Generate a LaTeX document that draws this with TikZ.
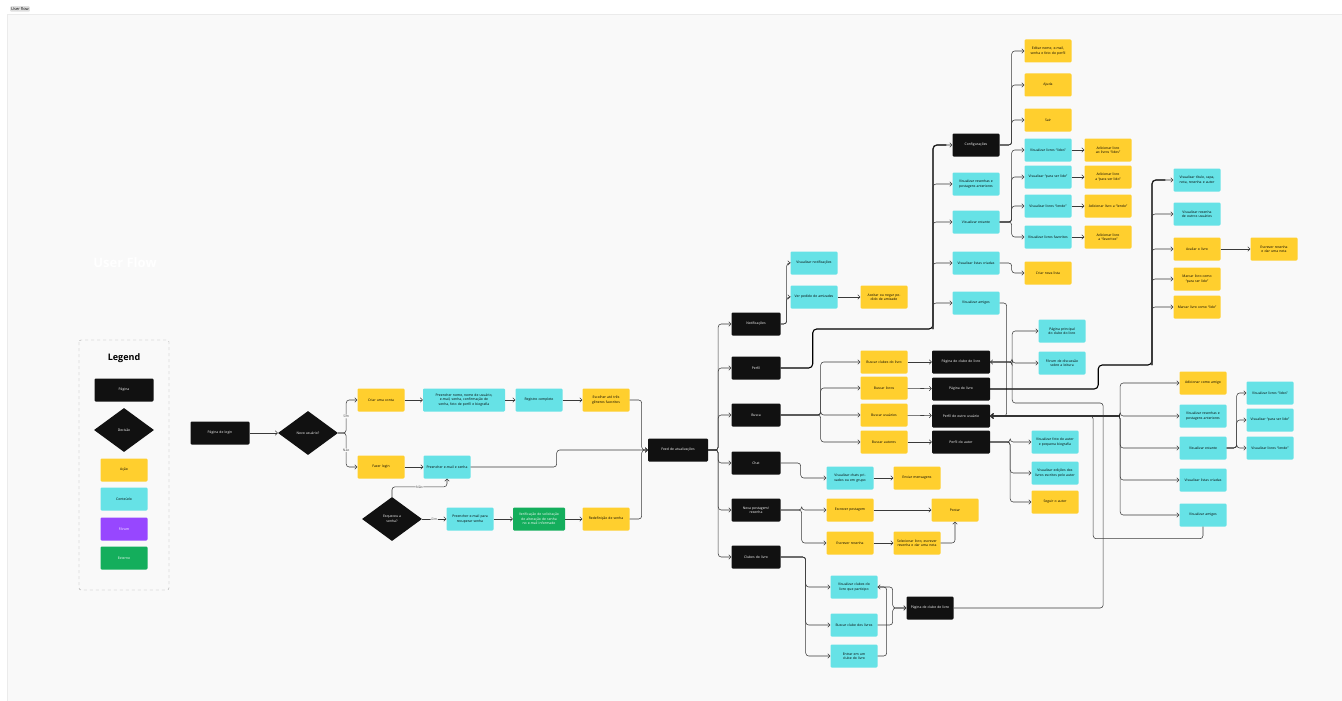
\documentclass[tikz,border=0pt]{standalone}
\usepackage{fontspec}
\setmainfont{Open Sans}
\usepackage{xcolor}
\usepackage{tikz}
\usetikzlibrary{arrows.meta,positioning,shapes.geometric}
\definecolor{pageblk}{HTML}{111111}
\definecolor{actyel}{HTML}{FFCF2E}
\definecolor{contcyan}{HTML}{66E2E6}
\definecolor{forumpur}{HTML}{9747FF}
\definecolor{extgreen}{HTML}{14AE5C}
\definecolor{canvas}{HTML}{F9F9F9}
\definecolor{wire}{HTML}{3A3A3A}
\tikzset{box/.style={rectangle,rounded corners=1.2pt,minimum width=47pt,minimum height=23pt,
    inner sep=1pt,text width=43pt,align=center,font=\fontsize{3.4}{4.4}\selectfont}}
\tikzset{page/.style={box,fill=pageblk,text=white,minimum width=49pt,text width=45pt}}
\tikzset{act/.style={box,fill=actyel,text=black}}
\tikzset{cont/.style={box,fill=contcyan,text=black}}
\tikzset{extbox/.style={box,fill=extgreen,text=white}}
\tikzset{forumbox/.style={box,fill=forumpur,text=white}}
\tikzset{decision/.style={diamond,fill=pageblk,text=white,minimum width=60pt,minimum height=44pt,
    inner sep=0pt,align=center,font=\fontsize{3.4}{4.4}\selectfont}}
\tikzset{link/.style={-{Straight Barb[length=2.2pt,width=4.6pt]},draw=wire,line width=0.55pt,rounded corners=3pt}}
\tikzset{trunk/.style={draw=black,line width=1.1pt,rounded corners=4pt}}
\tikzset{lbl/.style={fill=canvas,inner sep=0.6pt,text=black!70,font=\fontsize{3.4}{4}\selectfont}}

\begin{document}
\begin{tikzpicture}[x=1pt,y=-1pt]
\useasboundingbox (0,0) rectangle (1342,701);
% frame
\fill[white] (0,0) rectangle (1342,701);
\draw[fill=canvas,draw=black!8] (7,14) rectangle (1342,701);
\node[fill=black!12,rounded corners=1pt,inner sep=1.2pt,font=\fontsize{4}{5}\selectfont] (tab) at (20,9) {User flow};
\node[text=white,font=\fontsize{13}{15}\selectfont\bfseries] (title) at (125,263) {User Flow};

% legend
\draw[dashed,draw=black!35,rounded corners=2pt] (79,340) rectangle (169,590);
\node[font=\fontsize{9}{10}\selectfont\bfseries] (lgtitle) at (124,358) {Legend};
\node[page,minimum width=59pt,text width=55pt] (lgpage) at (124,390) {Página};
\node[decision] (lgdec) at (124,430) {Decisão};
\node[act] (lgact) at (124,470) {Ação};
\node[cont] (lgcont) at (124,499) {Conteúdo};
\node[forumbox] (lgforum) at (124,529) {Fórum};
\node[extbox] (lgext) at (124,558) {Externo};

% login
\node[page,minimum width=59pt,text width=55pt] (login) at (220,433) {Página de login};
\node[decision] (novo) at (308,433) {Novo usuário?};
\node[act] (criar) at (381,400) {Criar uma conta};
\node[cont,minimum width=82pt,text width=78pt] (preencher) at (464,400) {Preencher nome, nome de usuário, e-mail, senha, confirmação de senha, foto de perfil e biografia};
\node[cont] (registro) at (539,400) {Registro completo};
\node[act] (escolher) at (606,400) {Escolher até três gêneros favoritos};
\node[act] (fazer) at (381,467) {Fazer login};
\node[cont] (email) at (447,467) {Preencher e-mail e senha};
\node[decision] (esqueceu) at (392,519) {Esqueceu a\\senha?};
\node[cont] (recuperar) at (470,519) {Preencher e-mail para recuperar senha};
\node[extbox,minimum width=52pt,text width=48pt] (verif) at (539,519) {Verificação de solicitação de alteração de senha no e-mail informado};
\node[act] (redef) at (606,519) {Redefinição de senha};
\node[page,minimum width=60pt,text width=56pt] (feed) at (678,450) {Feed de atualizações};

\draw[link] (login) -- (novo);
\draw[link] (novo.east) -- ++(8,0) |- node[lbl,pos=0.25] {Sim} (criar.west);
\draw[link] (novo.east) -- ++(8,0) |- node[lbl,pos=0.25] {Não} (fazer.west);
\draw[link] (criar) -- (preencher);
\draw[link] (preencher) -- (registro);
\draw[link] (registro) -- (escolher);
\draw[link] (fazer) -- (email);
\draw[link] (esqueceu.north) -- ++(0,-10) -| node[lbl,pos=0.25] {Não} (email.south);
\draw[link] (esqueceu.east) -- node[lbl] {Sim} (recuperar.west);
\draw[link] (recuperar) -- (verif);
\draw[link] (verif) -- (redef);
\draw[link] (escolher.east) -- ++(12,0) |- (feed.west);
\draw[link] (redef.east) -- ++(12,0) |- (feed.west);
\draw[link] (email.east) -- ++(86,0) |- (feed.west);

% feed children
\node[page] (notif) at (756,324) {Notificações};
\node[page] (perfil) at (756,368) {Perfil};
\node[page] (busca) at (756,415) {Busca};
\node[page] (chat) at (756,463) {Chat};
\node[page] (nova) at (756,510) {Nova postagem/\\resenha};
\node[page] (clubes) at (756,557) {Clubes do livro};
\foreach \c in {notif,perfil,busca,chat,nova,clubes}
  \draw[link] (feed.east) -- ++(10,0) |- (\c.west);

% notificacoes
\node[cont] (vnotif) at (814,263) {Visualizar notificações};
\node[cont] (vpedido) at (814,297) {Ver pedido de amizades};
\node[act] (aceitar) at (884,297) {Aceitar ou negar pedido de amizade};
\draw[link] (notif.east) -- ++(6,0) |- (vnotif.west);
\draw[link] (notif.east) -- ++(6,0) |- (vpedido.west);
\draw[link] (vpedido) -- (aceitar);

% perfil
\coordinate (pf) at (933,329);
\node[page,minimum width=47pt,text width=43pt] (config) at (976,145) {Configurações};
\node[cont] (resenhas) at (976,184) {Visualizar resenhas e postagens anteriores};
\node[cont] (estante) at (976,222) {Visualizar estante};
\node[cont] (listas) at (976,263) {Visualizar listas criadas};
\node[cont] (amigos) at (976,303) {Visualizar amigos};
\draw[trunk] (perfil.east) -- ++(32,0) |- (pf) |- ([xshift=-6pt]config.west);
\foreach \c in {config,resenhas,estante,listas,amigos}
  \draw[link] (pf) |- (\c.west);

\node[act] (editar) at (1048,51) {Editar nome, e-mail, senha e foto do perfil};
\node[act] (ajuda) at (1048,85) {Ajuda};
\node[act] (sair) at (1048,120) {Sair};
\foreach \c in {editar,ajuda,sair}
  \draw[link] (config.east) -- ++(12,0) |- (\c.west);

\node[cont] (lidos) at (1048,150) {Visualizar livros ``lidos''};
\node[cont] (paraler) at (1048,177) {Visualizar ``para ser lido''};
\node[cont] (lendo) at (1048,206) {Visualizar livros ``lendo''};
\node[cont] (favoritos) at (1048,237) {Visualizar livros favoritos};
\node[act] (addlidos) at (1108,150) {Adicionar livro ao livros ``lidos''};
\node[act] (addparaler) at (1108,177) {Adicionar livro a ``para ser lido''};
\node[act] (addlendo) at (1108,206) {Adicionar livro a ``lendo''};
\node[act] (addfav) at (1108,237) {Adicionar livro a ``favoritos''};
\foreach \c/\d in {lidos/addlidos,paraler/addparaler,lendo/addlendo,favoritos/addfav} {
  \draw[link] (estante.east) -- ++(12,0) |- (\c.west);
  \draw[link] (\c) -- (\d);
}
\node[act] (novalista) at (1048,273) {Criar nova lista};
\draw[link] (listas.east) -- ++(12,0) |- (novalista.west);

% busca
\node[act] (bclubes) at (884,362) {Buscar clubes do livro};
\node[act] (blivros) at (884,388) {Buscar livros};
\node[act] (busuarios) at (884,415) {Buscar usuários};
\node[act] (bautores) at (884,442) {Buscar autores};
\node[page,minimum width=58pt,text width=54pt] (pclube) at (961,362) {Página do clube do livro};
\node[page,minimum width=58pt,text width=54pt] (plivro) at (961,389) {Página do livro};
\node[page,minimum width=58pt,text width=54pt] (poutro) at (961,416) {Perfil de outro usuário};
\node[page,minimum width=58pt,text width=54pt] (pautor) at (961,442) {Perfil do autor};
\foreach \c/\d in {bclubes/pclube,blivros/plivro,busuarios/poutro,bautores/pautor} {
  \draw[link] (busca.east) -- ++(40,0) |- (\c.west);
  \draw[link] (\c) -- (\d);
}
\draw[link] (amigos.east) -- ++(7,0) |- (poutro.east);

% pagina do clube do livro
\node[cont] (principal) at (1062,331) {Página principal do clube do livro};
\node[cont] (forum) at (1062,363) {Fórum de discussão sobre a leitura};
\draw[link] (pclube.east) -- ++(22,0) |- (principal.west);
\draw[link] (pclube.east) -- ++(22,0) |- (forum.west);

% pagina do livro
\coordinate (lf) at (1152,365);
\node[cont] (titulo) at (1197,180) {Visualizar título, capa, nota, resenha e autor};
\node[cont] (resoutros) at (1197,214) {Visualizar resenha de outros usuários};
\node[act] (avaliar) at (1197,249) {Avaliar o livro};
\node[act] (marcarpara) at (1197,279) {Marcar livro como ``para ser lido''};
\node[act] (marcarlido) at (1197,307) {Marcar livro como ``lido''};
\node[act] (escrevernota) at (1274,249) {Escrever resenha e dar uma nota};
\draw[trunk] (plivro.east) -- ++(108,0) |- (lf) |- ([xshift=-8pt]titulo.west);
\foreach \c in {titulo,resoutros,avaliar,marcarpara,marcarlido}
  \draw[link] (lf) |- (\c.west);
\draw[link] (avaliar) -- (escrevernota);

% perfil de outro usuario
\node[act] (addamigo) at (1203,383) {Adicionar como amigo};
\node[cont] (oresenhas) at (1203,416) {Visualizar resenhas e postagens anteriores};
\node[cont] (oestante) at (1203,448) {Visualizar estante};
\node[cont] (olistas) at (1203,480) {Visualizar listas criadas};
\node[cont] (oamigos) at (1203,515) {Visualizar amigos};
\draw[trunk,-{Straight Barb[length=2.6pt,width=5pt]}] ([xshift=130pt]poutro.east) -- (poutro.east);
\foreach \c in {addamigo,oresenhas,oestante,olistas,oamigos}
  \draw[link] (poutro.east) -- ++(130,0) |- (\c.west);
\node[cont] (olidos) at (1270,393) {Visualizar livros ``lidos''};
\node[cont] (oparaler) at (1270,420) {Visualizar ``para ser lido''};
\node[cont] (olendo) at (1270,448) {Visualizar livros ``lendo''};
\foreach \c in {olidos,oparaler,olendo}
  \draw[link] (oestante.east) -- ++(10,0) |- (\c.west);
\draw[link] (oamigos.south) -- ++(0,12) -| ([xshift=103pt]poutro.east) -- (poutro.east);

% perfil do autor
\node[cont] (afoto) at (1055,442) {Visualizar foto do autor e pequena biografia};
\node[cont] (aedicoes) at (1055,473) {Visualizar edições dos livros escritos pelo autor};
\node[act] (seguir) at (1055,502) {Seguir o autor};
\foreach \c in {afoto,aedicoes,seguir}
  \draw[link] (pautor.east) -- ++(20,0) |- (\c.west);

% chat
\node[cont] (vchats) at (850,478) {Visualizar chats privados ou em grupo};
\node[act] (enviar) at (917,478) {Enviar mensagens};
\draw[link] (chat.east) -- ++(20,0) |- (vchats.west);
\draw[link] (vchats) -- (enviar);

% nova postagem
\node[act] (epost) at (850,510) {Escrever postagem};
\node[act] (eresenha) at (850,543) {Escrever resenha};
\node[act] (postar) at (955,510) {Postar};
\node[act] (selecionar) at (917,543) {Selecionar livro, escrever resenha e dar uma nota};
\draw[link] (nova.east) -- ++(21,0) |- (epost.west);
\draw[link] (nova.east) -- ++(21,0) |- (eresenha.west);
\draw[link] (epost) -- (postar);
\draw[link] (eresenha) -- (selecionar);
\draw[link] (selecionar.east) -| (postar.south);

% clubes do livro
\node[cont] (vclubes) at (854,587) {Visualizar clubes do livro que participo};
\node[cont] (bclube) at (854,625) {Buscar clube dos livros};
\node[cont] (entrar) at (854,656) {Entrar em um clube do livro};
\node[page,minimum width=47pt,text width=43pt] (pclube2) at (930,608) {Página de clube de livro};
\foreach \c in {vclubes,bclube,entrar}
  \draw[link] (clubes.east) -- ++(25,0) |- (\c.west);
\draw[link] (vclubes.east) -- ++(15,0) |- (pclube2.west);
\draw[link] (bclube.east) -- ++(15,0) |- (pclube2.west);
\draw[link] (entrar.east) -- ++(9,0) |- (vclubes.east);
\draw[link] (pclube2.east) -| ([xshift=113pt,yshift=-41pt]pclube.east) -| ([xshift=22pt]pclube.east) -- (pclube.east);
\end{tikzpicture}
\end{document}
